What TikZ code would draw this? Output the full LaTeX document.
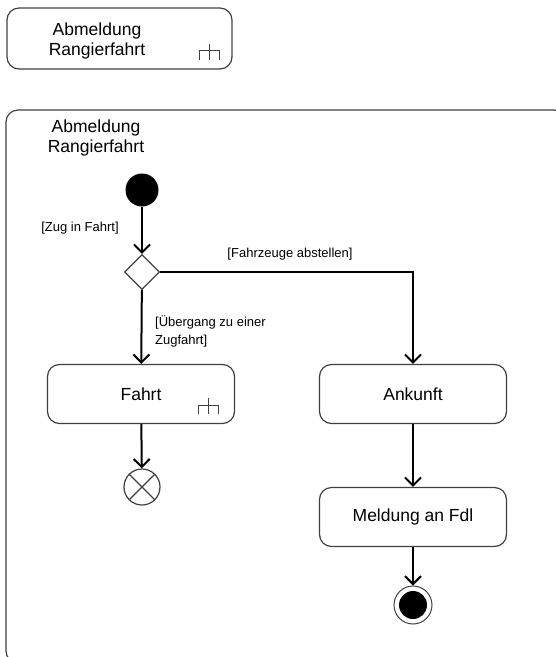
\documentclass[tikz,border=0pt]{standalone}
\usepackage{fontspec}
\setmainfont{Liberation Sans}
\usetikzlibrary{arrows.meta,shapes.geometric}

\begin{document}
\begin{tikzpicture}[x=1pt, y=-1pt,
  >={Straight Barb[length=8pt,width=16pt]},
  action/.style={draw=black!75, line width=1.2pt, rounded corners=12pt,
    minimum width=187pt, minimum height=59pt, align=center,
    font=\fontsize{17.5}{20}\selectfont},
  title/.style={align=center, inner sep=0pt, font=\fontsize{17.5}{20}\selectfont},
  guard/.style={inner sep=0pt, font=\fontsize{13}{18}\selectfont},
  flow/.style={->, line width=2pt},
  rake/.pic={\draw[line width=1.2pt, black!75]
    (-10pt,-9pt) -- (-10pt,0pt) -- (10pt,0pt) -- (10pt,-9pt)
    (0pt,7pt) -- (0pt,-9pt);}
]
\useasboundingbox (0,0) rectangle (556,657);
\clip (0,0) rectangle (556,657);

% call behaviour action
\node[action, minimum width=225pt, minimum height=61pt] (call) at (119.5,38.5) {};
\node[title] (calltitle) at (97,41) {Abmeldung\\Rangierfahrt};
\pic at ([xshift=-23pt, yshift=19pt]call.south east) {rake};

% activity frame
\draw[draw=black!75, line width=1.2pt, rounded corners=12pt] (6,110) rectangle (566,663);
\node[title] (frametitle) at (96,138) {Abmeldung\\Rangierfahrt};

% control nodes
\node[circle, fill=black, minimum size=33pt, inner sep=0pt] (start) at (142,190) {};
\node[diamond, draw=black!75, line width=1.2pt, minimum size=35pt, inner sep=0pt] (choice) at (142,272) {};
\node[circle, draw=black!75, line width=1.2pt, minimum size=36pt, inner sep=0pt] (cancel) at (142,487) {};
\draw[black!75, line width=1.2pt] (cancel.north east) -- (cancel.south west) (cancel.north west) -- (cancel.south east);
\node[circle, draw=black!75, line width=1pt, minimum size=38pt, inner sep=0pt] (stop) at (413,605) {};
\node[circle, fill=black, minimum size=28pt, inner sep=0pt] (stopdot) at (stop) {};

% actions
\node[action] (fahrt) at (141,394) {Fahrt};
\pic at ([xshift=-27pt, yshift=19pt]fahrt.south east) {rake};
\node[action] (ankunft) at (413,394) {Ankunft};
\node[action] (meldung) at (413,517) {Meldung an Fdl};

% flows
\draw[flow] (start) -- (choice);
\draw[flow] (choice.east) -| (ankunft.north);
\draw[flow] (choice) -- (fahrt);
\draw[flow] (fahrt) -- (cancel);
\draw[flow] (ankunft) -- (meldung);
\draw[flow] (meldung) -- (stop);

% guards
\node[guard] (g1) at (80,228) {[Zug in Fahrt]};
\node[guard] (g2) at (290,254) {[Fahrzeuge abstellen]};
\node[guard, anchor=north west, align=left] (g3) at (155,315) {[Übergang zu einer\\Zugfahrt]};

\end{tikzpicture}
\end{document}
